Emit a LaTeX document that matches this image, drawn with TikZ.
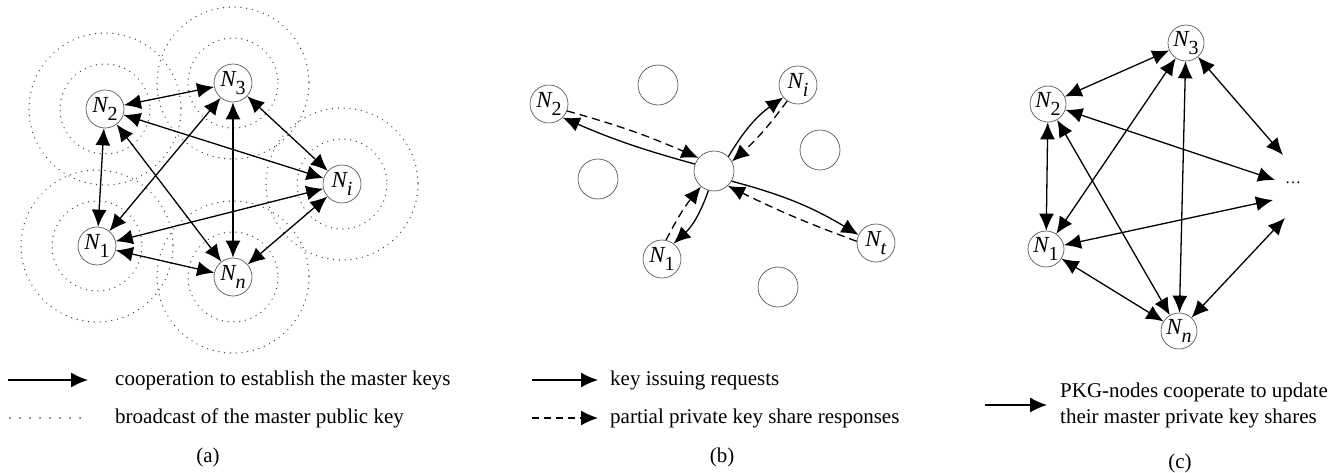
\documentclass[tikz,border=0pt]{standalone}
\usepackage{fontspec}
\setmainfont{Liberation Serif}
\usetikzlibrary{arrows.meta}
\newcommand{\Nd}[1]{\textit{N}\kern-1pt\raisebox{-0.33em}{\fontsize{20}{20}\selectfont #1}}

\begin{document}
\begin{tikzpicture}[x=1pt,y=1pt,yscale=-1,xscale=1,
  pkg/.style={circle,draw=black!65,line width=0.7pt,minimum size=38pt,inner sep=0pt,fill=white,font=\fontsize{23}{23}\selectfont},
  coop/.style={{Latex[length=17pt,width=15pt]}-{Latex[length=17pt,width=15pt]},line width=1.3pt},
  bcast/.style={draw=black!75,line width=1.4pt,dash pattern=on 0.01pt off 5.8pt,line cap=round},
  req/.style={-{Latex[length=17pt,width=15pt]},line width=1.3pt},
  resp/.style={req,dash pattern=on 8pt off 5pt},
  lgd/.style={anchor=west,inner sep=0pt,align=left,font=\fontsize{21}{26}\selectfont}]
%set diagram left start at 0, and has height of 472
\useasboundingbox (0,0) rectangle (1334,472);

%%% (a)
% PKG Nodes
\node[pkg] (a3) at (233,83) {\Nd{3}};
\node[pkg] (a2) at (105,109) {\Nd{2}};
\node[pkg] (ai) at (342,184) {\Nd{\textit{i}}};
\node[pkg] (a1) at (97,246) {\Nd{1}};
\node[pkg] (an) at (233,277) {\Nd{\textit{n}}};
% Broadcast ranges
\foreach \p in {a3,a2,ai,a1,an}
  \draw[bcast] (\p) circle[radius=45] (\p) circle[radius=76];
% Cooperation
\foreach \u/\v in {a2/a3,a2/ai,a2/a1,a2/an,a3/a1,a3/an,a3/ai,ai/a1,ai/an,a1/an}
  \draw[coop] (\u) -- (\v);

%%% (b)
% Nodes
\node[pkg,minimum size=40pt] (bc) at (714,171) {};
\node[pkg] (b2) at (549,104) {\Nd{2}};
\node[pkg] (bi) at (798,85) {\Nd{\textit{i}}};
\node[pkg] (bt) at (876,243) {\Nd{\textit{t}}};
\node[pkg] (b1) at (662,259) {\Nd{1}};
\node[pkg,minimum size=40pt] (be1) at (658,85) {};
\node[pkg,minimum size=40pt] (be2) at (598,179) {};
\node[pkg,minimum size=40pt] (be3) at (820,150) {};
\node[pkg,minimum size=40pt] (be4) at (778,287) {};
% Requests and responses
\draw[req] (bc.160) to[bend right=4] (b2.-45);
\draw[resp] (b2.-21) to[bend right=4] (bc.140);
\draw[req] (bc.45) to[bend right=12] (bi.220);
\draw[resp] (bi.236) to[bend right=6] (bc.28);
\draw[req] (bc.254) to[bend right=14] (b1.53);
\draw[resp] (b1.78) to[bend right=6] (bc.230);
\draw[req] (bc.-30) to[bend right=8] (bt.155);
\draw[resp] (bt.175) to[bend right=3] (bc.-47);

%%% (c)
% PKG Nodes
\node[pkg,minimum size=36pt] (c3) at (1186,43) {\Nd{3}};
\node[pkg,minimum size=36pt] (c2) at (1048,104) {\Nd{2}};
\node[pkg,minimum size=36pt] (c1) at (1046,249) {\Nd{1}};
\node[pkg,minimum size=36pt] (cn) at (1179,331) {\Nd{\textit{n}}};
% Text Node
\node[inner sep=0pt,font=\fontsize{16}{16}\selectfont] (cd) at (1293,183) {\ldots};
\coordinate (cd3) at (1283,155);
\coordinate (cd2) at (1275,180);
\coordinate (cd1) at (1273,200);
\coordinate (cdn) at (1285,218);
% Cooperation
\foreach \u/\v in {c2/c3,c3/c1,c3/cn,c2/c1,c2/cn,c1/cn,c3/cd3,c2/cd2,c1/cd1,cn/cdn}
  \draw[coop] (\u) -- (\v);

%%% Legends
\coordinate (la1s) at (8,380);
\coordinate (la1e) at (88,380);
\draw[req] (la1s) -- (la1e);
\node[lgd] (la1) at (115,380) {cooperation to establish the master keys};
\coordinate (la2s) at (10,418);
\coordinate (la2e) at (82,418);
\draw[bcast,draw=black,dash pattern=on 0.01pt off 10pt] (la2s) -- (la2e);
\node[lgd] (la2) at (115,418) {broadcast of the master public key};
\node[font=\fontsize{21}{26}\selectfont] (capa) at (208,457) {(a)};

\coordinate (lb1s) at (532,380);
\coordinate (lb1e) at (598,380);
\draw[req] (lb1s) -- (lb1e);
\node[lgd] (lb1) at (610,380) {key issuing requests};
\coordinate (lb2s) at (532,418);
\coordinate (lb2e) at (598,418);
\draw[resp,dash pattern=on 7pt off 5pt] (lb2s) -- (lb2e);
\node[lgd] (lb2) at (610,418) {partial private key share responses};
\node[font=\fontsize{21}{26}\selectfont] (capb) at (722,457) {(b)};

\coordinate (lc1s) at (985,405);
\coordinate (lc1e) at (1047,405);
\draw[req] (lc1s) -- (lc1e);
\node[lgd] (lc1) at (1060,405) {PKG-nodes cooperate to update\\their master private key shares};
\node[font=\fontsize{21}{26}\selectfont] (capc) at (1180,463) {(c)};

\end{tikzpicture}
\end{document}
